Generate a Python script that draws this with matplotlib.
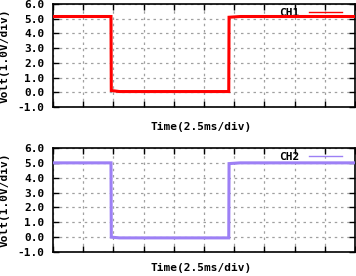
import matplotlib
matplotlib.use('Agg')
import matplotlib.pyplot as plt
from matplotlib.lines import Line2D

# time in divisions (2.5 ms/div), voltage in volts
ch1_t = [0.0, 1.92, 1.93, 2.2, 5.82, 5.83, 6.2, 10.0]
ch1_v = [5.15, 5.15, 0.12, 0.05, 0.05, 5.1, 5.15, 5.15]
ch2_t = [0.0, 1.92, 1.93, 2.2, 5.82, 5.83, 6.2, 10.0]
ch2_v = [5.0, 5.0, 0.0, -0.05, -0.05, 4.95, 5.0, 5.0]

y_ticks = [-1, 0, 1, 2, 3, 4, 5, 6]
y_labels = ['-1.0', '0.0', '1.0', '2.0', '3.0', '4.0', '5.0', '6.0']

font = {'family': 'DejaVu Sans Mono', 'weight': 'bold', 'size': 8}

fig = plt.figure(figsize=(3.56, 2.76), dpi=100)
ax1 = fig.add_axes([53/356, 1-107/276, 302/356, 103/276])
ax2 = fig.add_axes([53/356, 1-252/276, 302/356, 104/276])

for ax, t, v, col, name, xl_y in [(ax1, ch1_t, ch1_v, '#ff0000', 'CH1', -0.15),
                                  (ax2, ch2_t, ch2_v, '#9d80f5', 'CH2', -0.105)]:
    ax.plot(t, v, color=col, lw=2.2, solid_joinstyle='miter', zorder=3)
    ax.set_xlim(0, 10)
    ax.set_ylim(-1, 6)
    ax.set_xticks(range(11))
    ax.set_xticklabels([])
    ax.set_yticks(y_ticks)
    ax.set_yticklabels(y_labels, fontdict=font)
    ax.tick_params(direction='in', length=4, width=1, top=True, right=True, pad=6)
    ax.grid(True, color='#a0a0a0', ls=(0, (2, 3)), lw=0.9)
    for s in ax.spines.values():
        s.set_linewidth(1.2)
    ax.set_xlabel('Time(2.5ms/div)', fontdict=font, va='top')
    ax.xaxis.set_label_coords(0.49, xl_y)
    ax.set_ylabel('Volt(1.0V/div)', fontdict=font)
    ax.yaxis.set_label_coords(-0.142, 0.5)
    leg = ax.legend(handles=[Line2D([], [], color=col, lw=1)], labels=[name],
                    loc='upper right', bbox_to_anchor=(0.957, 0.96),
                    frameon=False, markerfirst=False, borderaxespad=0, borderpad=0,
                    handlelength=3.0, handletextpad=0.8,
                    prop={'family': 'DejaVu Sans Mono', 'weight': 'bold', 'size': 8})
    leg.set_zorder(2)

fig.savefig('out.png', dpi=100)
